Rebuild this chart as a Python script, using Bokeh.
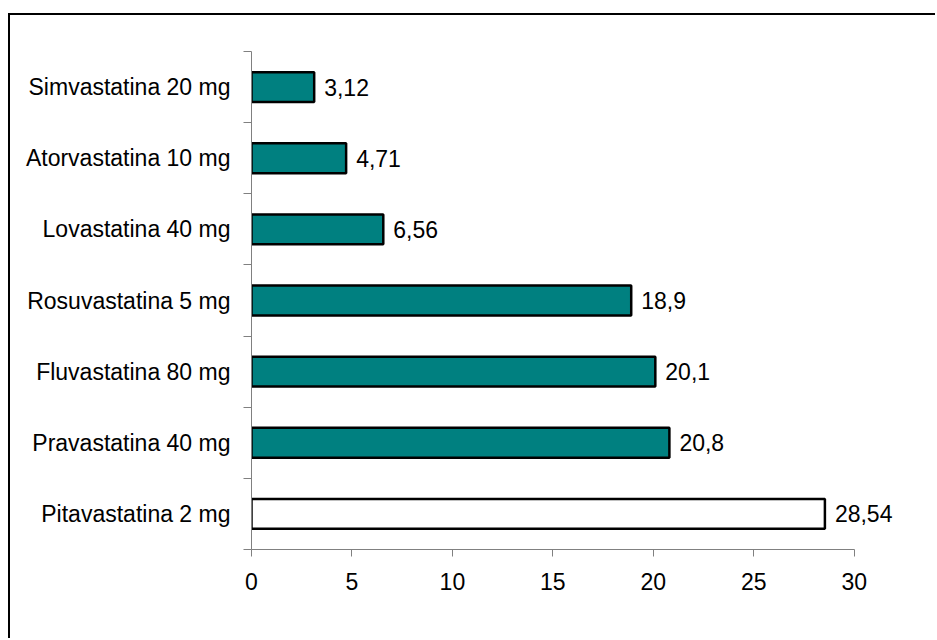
from bokeh.plotting import figure
from bokeh.models import ColumnDataSource, FixedTicker, LabelSet
from bokeh.core.properties import value
from bokeh.embed import file_html
from bokeh.resources import INLINE

# Data (bottom to top)
drugs = ["Pitavastatina 2 mg", "Pravastatina 40 mg", "Fluvastatina 80 mg",
         "Rosuvastatina 5 mg", "Lovastatina 40 mg", "Atorvastatina 10 mg",
         "Simvastatina 20 mg"]
values = [28.54, 20.8, 20.1, 18.9, 6.56, 4.71, 3.12]
value_labels = ["28,54", "20,8", "20,1", "18,9", "6,56", "4,71", "3,12"]
bar_colors = ["#ffffff", "#008080", "#008080", "#008080", "#008080", "#008080", "#008080"]
x_ticks = [0, 5, 10, 15, 20, 25, 30]

FONT = "Liberation Sans"
FS = "23px"

pos = [i + 0.5 for i in range(len(drugs))]
src = ColumnDataSource(dict(y=pos, v=values, lab=value_labels, c=bar_colors))

# canvas origin at page (10, 15) inside the chart border
p = figure(width=927, height=625, output_backend="svg", toolbar_location=None,
           x_range=(0, 33), y_range=(0, len(drugs)),
           min_border_left=241, min_border_right=23, min_border_top=36, min_border_bottom=91)
p.margin = (13, 0, 0, 8)
p.styles = {"border-left": "2px solid black", "border-top": "2px solid black"}
p.outline_line_color = None
p.xgrid.visible = False
p.ygrid.visible = False
p.background_fill_color = "white"
p.border_fill_color = "white"

p.hbar(y="y", right="v", left=0, height=0.42, fill_color="c", line_color="black",
       line_width=2.5, source=src)

labels = LabelSet(x="v", y="y", text="lab", source=src, x_offset=10, y_offset=0,
                  text_font=value(FONT), text_font_size=value(FS), text_color="black",
                  text_baseline="middle", text_align="left")
p.add_layout(labels)

# x axis
xa = p.xaxis[0]
xa.ticker = FixedTicker(ticks=x_ticks)
xa.bounds = (0, 30)
xa.axis_line_color = "#808080"
xa.major_tick_line_color = "#808080"
xa.major_tick_in = 0
xa.major_tick_out = 7
xa.minor_tick_line_color = None
xa.major_label_text_font = FONT
xa.major_label_text_font_size = FS
xa.major_label_text_color = "black"
xa.major_label_standoff = 16

# y axis: boundary ticks as minor ticks, labels at centres
ya = p.yaxis[0]
ya.ticker = FixedTicker(ticks=pos, minor_ticks=list(range(len(drugs) + 1)))
ya.major_label_overrides = {pos[i]: drugs[i] for i in range(len(drugs))}
ya.axis_line_color = "#808080"
ya.major_tick_line_color = None
ya.major_tick_in = 0
ya.major_tick_out = 0
ya.minor_tick_line_color = "#808080"
ya.minor_tick_in = 0
ya.minor_tick_out = 8
ya.major_label_text_font = FONT
ya.major_label_text_font_size = FS
ya.major_label_text_color = "black"
ya.major_label_standoff = 13

open("out.html", "w").write(file_html(p, INLINE))
